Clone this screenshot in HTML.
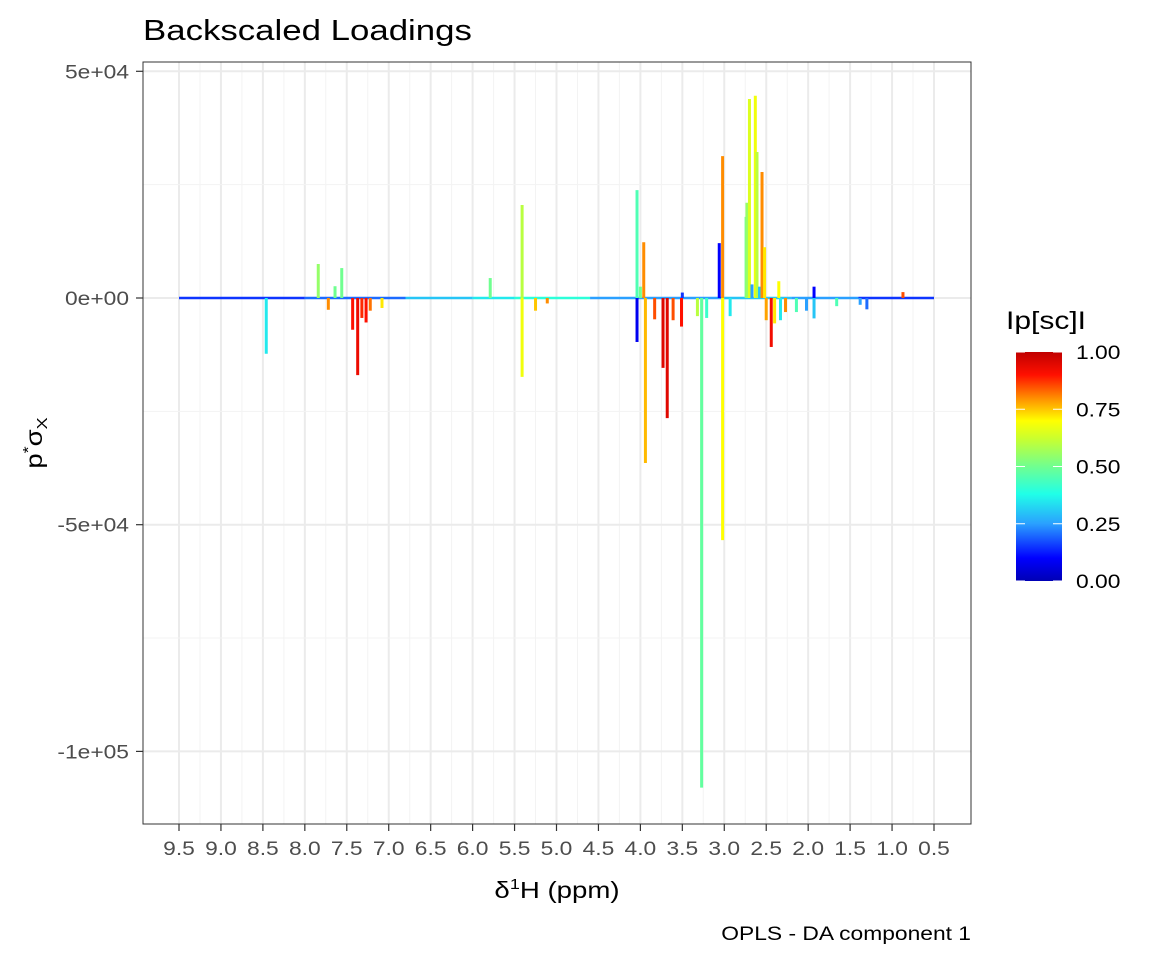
<!DOCTYPE html>
<html><head><meta charset="utf-8"><style>
body{margin:0;background:#fff;font-family:"Liberation Sans",sans-serif;}
</style></head><body>
<svg id="chart" width="1152" height="960" xmlns="http://www.w3.org/2000/svg" font-family="Liberation Sans, sans-serif">
<defs><linearGradient id="cbar" x1="0" y1="1" x2="0" y2="0">
<stop offset="0" stop-color="#0000b4"/><stop offset="0.1" stop-color="#0000ff"/><stop offset="0.25" stop-color="#2aa0ff"/><stop offset="0.38" stop-color="#20ffe8"/><stop offset="0.5" stop-color="#70ff90"/><stop offset="0.62" stop-color="#c8ff30"/><stop offset="0.7" stop-color="#ffff00"/><stop offset="0.8" stop-color="#ff8c00"/><stop offset="0.9" stop-color="#ff1000"/><stop offset="1" stop-color="#c00000"/>
</linearGradient></defs>
<text class="wide" x="143" y="40" font-size="29">Backscaled Loadings</text>
<g id="grid"></g>
<g id="marks"></g>
<rect x="143" y="62" width="828" height="762" fill="none" stroke="#333" stroke-width="1"/>
<g id="axes"></g>
<text class="wide" x="557" y="898" font-size="23" text-anchor="middle">δ<tspan font-size="15" dy="-9">1</tspan><tspan dy="9">H (ppm)</tspan></text>
<text class="wide" transform="translate(42,443) rotate(-90)" font-size="23" text-anchor="middle">p<tspan font-size="15" dy="-9">*</tspan><tspan dy="9">σ</tspan><tspan font-size="15" dy="5">X</tspan></text>
<text class="wide" x="971" y="940" font-size="19" text-anchor="end">OPLS - DA component 1</text>
<g>
<text class="wide" x="1006" y="329" font-size="25">Ip[sc]I</text>
<rect x="1016" y="352" width="46" height="229" fill="url(#cbar)"/>
<g id="legend-ticks"></g>
</g>
</svg>
<script>
const xTicks=[9.5,9.0,8.5,8.0,7.5,7.0,6.5,6.0,5.5,5.0,4.5,4.0,3.5,3.0,2.5,2.0,1.5,1.0,0.5];
const yTicks=[50000,0,-50000,-100000];
const yTickLabels=["5e+04","0e+00","-5e+04","-1e+05"];
const legendValues=[0,0.25,0.5,0.75,1.0];
const legendLabels=["0.00","0.25","0.50","0.75","1.00"];
// peaks: ppm, value, |p[sc]| colour score
const peakPpm=[8.46,7.84,7.64,7.56,7.72,7.43,7.37,7.32,7.27,7.22,7.08,5.79,5.41,5.41,5.25,5.11,4.04,4.04,4.0,3.96,3.94,3.83,3.73,3.68,3.61,3.51,3.50,3.32,3.27,3.21,3.06,3.02,3.02,2.93,2.74,2.73,2.70,2.67,2.63,2.61,2.58,2.55,2.52,2.50,2.44,2.40,2.35,2.33,2.27,2.14,2.02,1.93,1.93,1.66,1.38,1.30,0.87];
const peakVal=[-12300,7500,2600,6600,-2600,-7000,-17000,-4400,-5400,-2800,-2200,4400,20500,-17400,-2800,-1200,23800,-9700,2500,12300,-36400,-4700,-15400,-26500,-4900,-6300,1200,-4000,-108000,-4400,12100,31300,-53400,-4000,17900,21000,43900,3000,44600,32200,2500,27800,11200,-4900,-10800,-5600,3700,-4900,-3100,-3100,-2800,-4500,2500,-1800,-1500,-2500,1300];
const peakScore=[0.35,0.55,0.5,0.5,0.8,0.9,0.93,0.88,0.9,0.82,0.72,0.5,0.6,0.68,0.75,0.8,0.45,0.08,0.5,0.8,0.76,0.85,0.95,0.95,0.85,0.9,0.15,0.6,0.48,0.42,0.1,0.8,0.7,0.35,0.5,0.55,0.65,0.25,0.68,0.6,0.3,0.8,0.72,0.78,0.92,0.72,0.7,0.35,0.8,0.45,0.25,0.3,0.1,0.45,0.25,0.2,0.85];
const baseSegPpm=[9.5,8.0,6.8,6.0,5.5,4.6,3.0,2.2,1.4,0.5];
const baseSegScore=[0.15,0.2,0.3,0.35,0.4,0.25,0.3,0.25,0.15];

const X=p=>179+(9.5-p)*(755/9);
const Y=v=>298-v*(226.7/50000);
const stops=[[0,[0,0,180]],[0.1,[0,0,255]],[0.25,[42,160,255]],[0.38,[32,255,232]],[0.5,[112,255,144]],[0.62,[200,255,48]],[0.7,[255,255,0]],[0.8,[255,140,0]],[0.9,[255,16,0]],[1,[192,0,0]]];
function col(s){for(let i=1;i<stops.length;i++){if(s<=stops[i][0]){const a=stops[i-1],b=stops[i],t=(s-a[0])/(b[0]-a[0]);return 'rgb('+a[1].map((c,k)=>Math.round(c+(b[1][k]-c)*t)).join(',')+')';}}return 'rgb(192,0,0)';}
const NS="http://www.w3.org/2000/svg";
function mk(tag,attrs,parent){const e=document.createElementNS(NS,tag);for(const k in attrs)e.setAttribute(k,attrs[k]);parent.appendChild(e);return e;}
const grid=document.getElementById('grid'),marks=document.getElementById('marks'),axes=document.getElementById('axes');
for(let i=0;i<xTicks.length;i++){
  const g=mk('line',{x1:X(xTicks[i]),x2:X(xTicks[i]),y1:62,y2:824,stroke:'#ebebeb','stroke-width':2},grid);
  
  
  if(i<xTicks.length-1){const m=mk('line',{x1:X(xTicks[i]-0.25),x2:X(xTicks[i]-0.25),y1:62,y2:824,stroke:'#f3f3f3','stroke-width':1},grid);
  
  }
  const t=mk('line',{x1:X(xTicks[i]),x2:X(xTicks[i]),y1:824,y2:831,stroke:'#333','stroke-width':1.2},axes);
  
  
  const l=mk('text',{x:X(xTicks[i]),y:855,'font-size':19,'text-anchor':'middle',fill:'#4d4d4d','class':'wide'},axes);
  l.textContent=xTicks[i].toFixed(1);
  
  
}
for(let i=0;i<yTicks.length;i++){
  const g=mk('line',{x1:143,x2:971,y1:Y(yTicks[i]),y2:Y(yTicks[i]),stroke:'#ebebeb','stroke-width':2},grid);
  
  
  if(i<yTicks.length-1){const m=mk('line',{x1:143,x2:971,y1:Y(yTicks[i]-25000),y2:Y(yTicks[i]-25000),stroke:'#f3f3f3','stroke-width':1},grid);
  
  }
  const t=mk('line',{x1:136,x2:143,y1:Y(yTicks[i]),y2:Y(yTicks[i]),stroke:'#333','stroke-width':1.2},axes);
  
  
  const l=mk('text',{x:129,y:Y(yTicks[i])+7,'font-size':19,'text-anchor':'end',fill:'#4d4d4d','class':'wide'},axes);
  l.textContent=yTickLabels[i];
  
  
}
for(let i=0;i<baseSegScore.length;i++){
  const b=mk('line',{x1:X(baseSegPpm[i]),x2:X(baseSegPpm[i+1]),y1:Y(0),y2:Y(0),stroke:col(baseSegScore[i]),'stroke-width':2.5},marks);
  
  
}
for(let i=0;i<peakPpm.length;i++){
  const p=mk('line',{x1:X(peakPpm[i]),x2:X(peakPpm[i]),y1:Y(0),y2:Y(peakVal[i]),stroke:col(peakScore[i]),'stroke-width':3},marks);
  
  
}
const lt=document.getElementById('legend-ticks');
for(let i=0;i<legendValues.length;i++){
  const y=581-legendValues[i]*229;
  mk('line',{x1:1016,x2:1025,y1:y,y2:y,stroke:'#fff','stroke-width':1},lt);
  mk('line',{x1:1053,x2:1062,y1:y,y2:y,stroke:'#fff','stroke-width':1},lt);
  const l=mk('text',{x:1076,y:y+7,'font-size':19,'class':'wide'},lt);
  l.textContent=legendLabels[i];
  
  
}
// reference font is ~1.2x wider than Liberation Sans
document.querySelectorAll('text.wide').forEach(t=>{
  try{const w=t.getComputedTextLength();if(w>0){t.setAttribute('textLength',(w*1.2).toFixed(1));t.setAttribute('lengthAdjust','spacingAndGlyphs');}}catch(e){}
});
</script>
</body></html>
